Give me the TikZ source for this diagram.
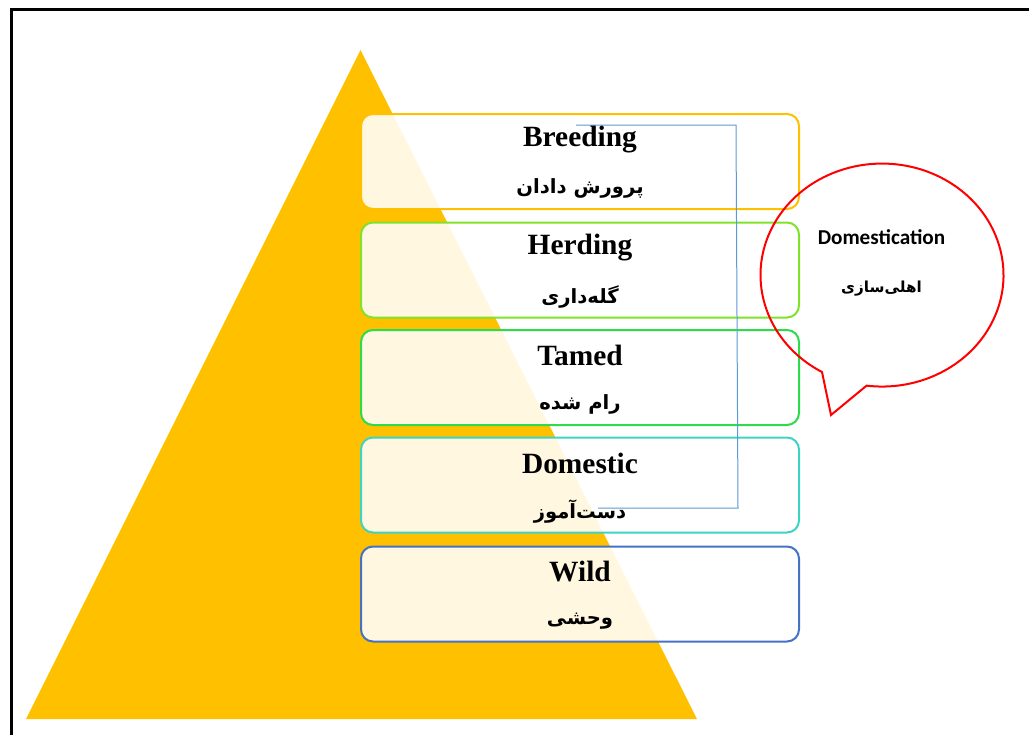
\documentclass[tikz,border=0pt]{standalone}
\usepackage{fontspec}
\setmainfont{Liberation Serif}
\newfontfamily\farsi[Script=Arabic]{DejaVu Sans}
\newfontfamily\calib{Carlito}
\TeXXeTstate=1
\definecolor{gold}{HTML}{FFC000}
\definecolor{lime}{HTML}{80E22A}
\definecolor{leaf}{HTML}{2EDB4B}
\definecolor{teal}{HTML}{3DD4C6}
\definecolor{steel}{HTML}{4472C4}
\definecolor{link}{HTML}{5B9BD5}

\begin{document}
\begin{tikzpicture}[x=0.5pt,y=-0.5pt,
  stage/.style={rounded corners=6pt,line width=1pt,fill=white,fill opacity=0.88,
    minimum width=219pt,minimum height=47.5pt,inner sep=0pt},
  eng/.style={font=\fontsize{14.7}{17}\selectfont\bfseries,inner sep=0pt},
  fa/.style={font=\fontsize{9.8}{12}\selectfont\farsi\bfseries,inner sep=0pt}]

  \useasboundingbox (0,0) rectangle (1029,735);
  \draw[line width=1.3pt] (1029,9.5) -- (11.5,9.5) -- (11.5,735);

  \fill[gold] (360.5,50) -- (697,719) -- (26,719) -- cycle;

  \draw (580,161.5) node[stage,draw=gold] (breed) {};
  \draw (580,270) node[stage,draw=lime] (herd) {};
  \draw (580,377.5) node[stage,draw=leaf] (tame) {};
  \draw (580,485) node[stage,draw=teal] (dome) {};
  \draw (580,594) node[stage,draw=steel] (wild) {};

  \coordinate (ltop) at (576,125);
  \coordinate (lbot) at (598,508);
  \draw[link,line width=0.5pt] (ltop) -- (736,125) -- (738,508) -- (lbot);

  \draw (breed.center) ++(0,-22) node[eng] (breed-en) {Breeding}
    ++(0,49) node[fa] (breed-fa) {\beginR پرورش دادان\endR};
  \draw (herd.center) ++(0,-22) node[eng] (herd-en) {Herding}
    ++(0,49) node[fa] (herd-fa) {\beginR گله‌داری\endR};
  \draw (tame.center) ++(0,-22) node[eng] (tame-en) {Tamed}
    ++(0,49) node[fa] (tame-fa) {\beginR رام شده\endR};
  \draw (dome.center) ++(0,-22) node[eng] (dome-en) {Domestic}
    ++(0,49) node[fa] (dome-fa) {\beginR دست‌آموز\endR};
  \draw (wild.center) ++(0,-22) node[eng] (wild-en) {Wild}
    ++(0,49) node[fa] (wild-fa) {\beginR وحشی\endR};

  % callout
  \coordinate (bub) at (881.5,275.5);
  \draw[red,line width=1pt,line join=miter] (822,372)
    arc[start angle=119.6,end angle=457.3,x radius=121.5,y radius=111.5]
    -- (831,415) -- cycle;
  \draw (bub) ++(0,-38) node[font=\fontsize{10.6}{13}\selectfont\calib\bfseries,inner sep=0pt] (bub-en) {Domestication}
    ++(0,51) node[font=\fontsize{7.6}{10}\selectfont\farsi\bfseries,inner sep=0pt] (bub-fa) {\beginR اهلی‌سازی\endR};

\end{tikzpicture}
\end{document}
